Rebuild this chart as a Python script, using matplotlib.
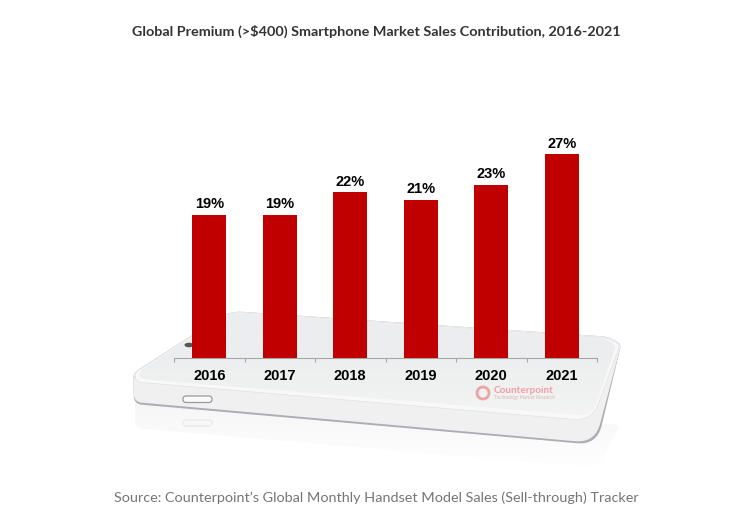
import matplotlib
matplotlib.use("Agg")
import matplotlib.pyplot as plt
import numpy as np
from matplotlib.patches import PathPatch, FancyBboxPatch, Circle, Ellipse
from matplotlib.path import Path

years = ["2016", "2017", "2018", "2019", "2020", "2021"]
shares = [19, 19, 22, 21, 23, 27]
labels = ["19%", "19%", "22%", "21%", "23%", "27%"]
title = "Global Premium (>$400) Smartphone Market Sales Contribution, 2016-2021"
source = "Source: Counterpoint\u2019s Global Monthly Handset Model Sales (Sell-through) Tracker"

W, H = 740, 532
fig = plt.figure(figsize=(W / 100, H / 100), dpi=100, facecolor="white")

# decorative phone backdrop, in pixel space
bg = fig.add_axes([0, 0, 1, 1], zorder=0)
bg.set_xlim(0, W); bg.set_ylim(H, 0); bg.axis("off")

def rounded(pts, **kw):
    verts, codes = [], []
    n = len(pts)
    for i, (x, y, r) in enumerate(pts):
        px, py, _ = pts[i - 1]; nx, ny, _ = pts[(i + 1) % n]
        d1 = ((px - x) ** 2 + (py - y) ** 2) ** .5; d2 = ((nx - x) ** 2 + (ny - y) ** 2) ** .5
        a = (x + (px - x) * r / d1, y + (py - y) * r / d1)
        b = (x + (nx - x) * r / d2, y + (ny - y) * r / d2)
        verts += [a, (x, y), b]
        codes += [Path.MOVETO if i == 0 else Path.LINETO, Path.CURVE3, Path.CURVE3]
    verts.append(verts[0]); codes.append(Path.CLOSEPOLY)
    p = PathPatch(Path(verts, codes), **kw)
    bg.add_patch(p)
    return p

# reflection, fading downwards
refl = rounded([(135, 398, 6), (620, 425, 6), (598, 468, 10), (135, 428, 8)], fc="none", ec="none", zorder=1)
grad = np.linspace(0, 1, 64).reshape(-1, 1)
im = bg.imshow(grad, extent=(130, 625, 470, 395), cmap=matplotlib.colors.LinearSegmentedColormap.from_list("r", ["#f5f5f5", "#ffffff"]),
               aspect="auto", zorder=1, origin="upper")
im.set_clip_path(refl)
bg.set_xlim(0, W); bg.set_ylim(H, 0)
bg.add_patch(FancyBboxPatch((183, 420), 29, 6, boxstyle="round,pad=0,rounding_size=3", fc="none", ec="#ececec", lw=1, zorder=1.5))
# shadow / body
rounded([(133, 373, 6), (230, 311, 12), (612, 337, 10), (621, 345, 3), (597, 445, 20), (134, 404, 8)],
        fc="#aeadb3", ec="none", zorder=2)
rounded([(133, 373, 6), (230, 311, 12), (612, 337, 10), (621, 345, 3), (595, 443, 20), (134, 402, 8)],
        fc="#f0f0f1", ec="none", zorder=3)
rounded([(134, 373, 6), (230, 312, 12), (610, 338, 10), (620, 345, 3), (592, 421, 18), (136, 382, 6)],
        fc="#f8f8f8", ec="#e2e2e4", lw=0.5, zorder=4)
# screen with gradient to lighter bottom
scr = rounded([(138, 372, 6), (230, 313, 10), (606, 338, 10), (616, 346, 4), (592, 416, 14), (140, 379, 6)],
              fc="none", ec="none", zorder=5)
g2 = np.linspace(0, 1, 64).reshape(-1, 1)
im2 = bg.imshow(g2, extent=(130, 625, 420, 310), cmap=matplotlib.colors.LinearSegmentedColormap.from_list("s", ["#ecedef", "#ecedef", "#eff0f0", "#f4f4f4"]),
                aspect="auto", zorder=5, origin="upper")
im2.set_clip_path(scr)
bg.set_xlim(0, W); bg.set_ylim(H, 0)
bg.add_patch(FancyBboxPatch((183, 396), 29, 6.5, boxstyle="round,pad=0,rounding_size=3.2", fc="#fafafa", ec="#9a9a9d", lw=0.9, zorder=6))
bg.add_patch(Ellipse((189, 345), 9, 4.5, fc="#55565a", ec="none", zorder=6))
# watermark
bg.add_patch(Circle((483, 393), 6, fc="none", ec="#eba3a3", lw=2, zorder=6))
bg.text(494, 390.5, "Counterpoint", fontsize=7.2, fontweight="bold", color="#ef9fa3", family="Lato",
        va="center", ha="left", zorder=6)
bg.text(494, 398, "Technology Market Research", fontsize=3.4, color="#d9b5b8", family="Lato",
        va="center", ha="left", zorder=6)

# chart
x0, x1, yb, yt = 174, 597, 358, 130
ax = fig.add_axes([x0 / W, 1 - yb / H, (x1 - x0) / W, (yb - yt) / H], zorder=2)
ax.patch.set_alpha(0)
pos = range(len(years))
ax.bar(pos, shares, width=0.48, color="#c00000", zorder=3)
ax.set_xlim(-0.5, 5.5)
ax.set_ylim(0, (yb - yt) / 7.54)
for s in ["top", "left", "right"]:
    ax.spines[s].set_visible(False)
ax.spines["bottom"].set_color("#a6a6a6")
ax.spines["bottom"].set_linewidth(0.8)
ax.set_yticks([])
ax.set_xticks([i - 0.5 for i in range(7)], minor=False)
ax.set_xticklabels([])
ax.tick_params(axis="x", length=3, width=0.8, color="#a6a6a6", direction="out")
for i, y in zip(pos, years):
    ax.annotate(y, (i, 0), xytext=(0, -13), textcoords="offset points", ha="center", va="center",
                fontsize=10.5, fontweight="bold", family="Liberation Sans", color="black", zorder=5)
for i, v, l in zip(pos, shares, labels):
    ax.annotate(l, (i, v), xytext=(0, 7.4), textcoords="offset points", ha="center", va="center",
                fontsize=10.5, fontweight="bold", family="Liberation Sans", color="black")

fig.text(376.5 / W, 1 - 31 / H, title, ha="center", va="center", fontsize=10.4, fontweight="bold",
         family="Lato", color="#333333", zorder=5)
fig.text(376.5 / W, 1 - 498 / H, source, ha="center", va="center", fontsize=10.4,
         family="Lato", color="#757575", zorder=5)
fig.savefig("out.png", dpi=100)
